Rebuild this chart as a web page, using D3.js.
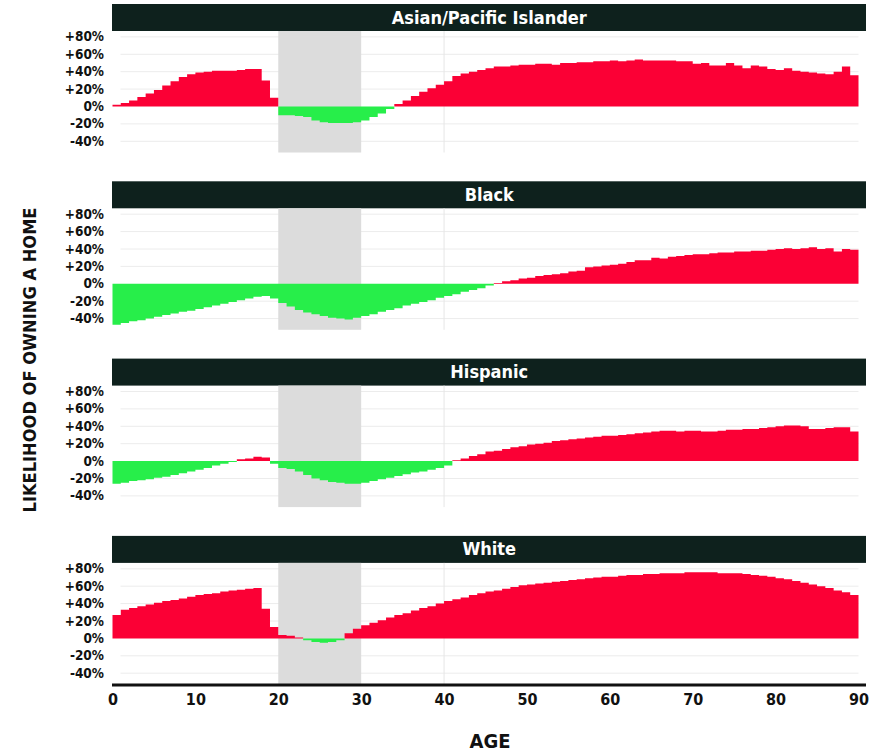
<!DOCTYPE html>
<html>
<head>
<meta charset="utf-8">
<script src="https://cdn.jsdelivr.net/npm/d3@7"></script>
<style>
  html, body { margin: 0; padding: 0; background: #ffffff; }
  svg { display: block; }
  text { font-family: "Liberation Sans Narrow", "DejaVu Sans Condensed", "Roboto", sans-serif; font-weight: bold; }
</style>
</head>
<body>
<svg id="chart" width="869" height="752"></svg>
<script>
// ---- DATA ----
const groups = ["Asian/Pacific Islander", "Black", "Hispanic", "White"];
const ages = d3.range(0, 91); // 0..90

const asianValues = [2,4,7,11,15,19,24,29,34,37,39,40,41,41,41,42,43,43,30,10,
  -10,-10,-11,-12,-16,-18,-19,-19,-19,-18,-16,-12,-8,-3,3,7,12,17,21,25,
  29,35,38,40,42,44,46,46,47,48,48,49,49,48,50,50,51,51,52,52,
  53,52,53,54,53,53,53,53,52,52,49,50,47,47,50,47,44,47,46,43,
  42,44,41,40,39,38,37,40,46,36,36];

const blackValues = [-47,-45,-43,-42,-40,-38,-36,-34,-32,-31,-29,-27,-25,-23,-21,-19,-17,-15,-14,-17,
  -22,-26,-30,-33,-35,-37,-39,-40,-41,-39,-37,-35,-32,-30,-28,-25,-23,-21,-19,-16,
  -14,-12,-9,-7,-5,-2,1,3,4,6,7,9,10,11,12,14,15,19,20,21,
  22,23,25,27,27,30,29,31,32,33,34,34,35,36,36,37,37,38,38,39,
  40,41,40,41,42,40,41,37,40,39,40];

const hispanicValues = [-26,-25,-23,-22,-21,-19,-18,-16,-14,-12,-10,-8,-5,-3,-1,2,3,5,4,-3,
  -8,-9,-12,-16,-20,-22,-24,-25,-26,-26,-25,-23,-21,-19,-17,-15,-13,-12,-10,-8,
  -5,1,3,6,8,11,12,14,16,17,19,20,21,23,24,25,26,27,28,29,
  29,30,31,32,33,34,35,35,34,35,35,34,34,35,36,36,37,37,38,39,
  40,41,41,40,37,37,38,39,39,34,34];

const whiteValues = [27,33,35,37,39,41,43,44,46,48,50,51,52,54,55,56,57,58,34,13,
  4,3,1,-2,-4,-5,-4,-2,6,11,15,18,21,24,27,29,32,35,37,40,
  43,45,47,50,52,54,55,57,59,61,62,63,64,65,66,67,68,69,70,71,
  71,72,73,73,74,74,75,75,75,76,76,76,76,75,75,75,74,73,72,71,
  69,68,66,64,62,60,58,55,53,50,48];

const seriesValues = [asianValues, blackValues, hispanicValues, whiteValues];
const yTicks = [80, 60, 40, 20, 0, -20, -40];
const yTickLabels = ["+80%", "+60%", "+40%", "+20%", "0%", "-20%", "-40%"];
const xTicks = [0, 10, 20, 30, 40, 50, 60, 70, 80, 90];
const shadeRange = [20, 30];
const yTitle = "LIKELIHOOD OF OWNING A HOME";
const xTitle = "AGE";

// ---- LAYOUT ----
const svg = d3.select("#chart");
const panelStep = 177.3;
const firstZero = 106.5;
const plotLeft = 112.5, plotRight = 858.5, headerRight = 866;
const x = d3.scaleLinear().domain([0, 90]).range([plotLeft, plotRight]);
const pxPerPct = 0.87;

const RED = "#fb0035";
const GREEN = "#27ee4a";
const HEADER = "#0e211d";

groups.forEach((name, i) => {
  const zero = firstZero + i * panelStep;
  const y = d3.scaleLinear().domain([-40, 80]).range([zero + 40 * pxPerPct, zero - 80 * pxPerPct]);
  const top = zero - 75.5;
  const bottom = zero + 46;
  const g = svg.append("g");

  // header
  g.append("rect").attr("x", plotLeft - 0.5).attr("y", top - 27).attr("width", headerRight - plotLeft + 0.5)
    .attr("height", 27).attr("fill", HEADER);
  g.append("text").attr("x", (plotLeft + headerRight) / 2).attr("y", top - 7.5)
    .attr("text-anchor", "middle").attr("fill", "#fff").attr("font-size", 18).text(name);

  // grid lines
  g.selectAll(".hg").data(yTicks.filter(d => d !== 0)).enter().append("line")
    .attr("x1", plotLeft + 8).attr("x2", plotRight).attr("y1", d => y(d)).attr("y2", d => y(d))
    .attr("stroke", "#ececec").attr("stroke-width", 1);
  g.selectAll(".vg").data([40]).enter().append("line")
    .attr("x1", d => x(d)).attr("x2", d => x(d)).attr("y1", top).attr("y2", bottom)
    .attr("stroke", "#e6e6e6").attr("stroke-width", 1);

  // shaded band
  g.append("rect").attr("x", x(shadeRange[0])).attr("y", top)
    .attr("width", x(shadeRange[1]) - x(shadeRange[0])).attr("height", bottom - top)
    .attr("fill", "#dcdcdc");

  const vals = seriesValues[i];
  const data = ages.map((a, k) => ({ age: a, v: vals[k] }));
  const posArea = d3.area().curve(d3.curveStepAfter)
    .x(d => x(d.age)).y0(y(0)).y1(d => y(Math.max(d.v, 0)));
  const negArea = d3.area().curve(d3.curveStepAfter)
    .x(d => x(d.age)).y0(y(0)).y1(d => y(Math.min(d.v, 0)));
  g.append("path").datum(data).attr("d", negArea).attr("fill", GREEN);
  g.append("path").datum(data).attr("d", posArea).attr("fill", RED);

  // y tick labels
  g.selectAll(".yt").data(yTicks).enter().append("text")
    .attr("x", 104).attr("y", d => y(d) + 4.5).attr("text-anchor", "end")
    .attr("font-size", 13.5).attr("fill", "#111").text((d, k) => yTickLabels[k]);
});

// x axis
const lastZero = firstZero + 3 * panelStep;
const axisY = lastZero + 46.5;
const xAxis = d3.axisBottom(x).tickValues(xTicks).tickSize(0).tickPadding(9);
const ax = svg.append("g").attr("transform", `translate(0,${axisY})`).call(xAxis);
ax.select(".domain").remove();
ax.append("line").attr("x1", plotLeft - 0.5).attr("x2", headerRight).attr("y1", 0).attr("y2", 0)
  .attr("stroke", "#111").attr("stroke-width", 3);
ax.selectAll(".tick text").attr("font-size", 16).attr("fill", "#111")
  .attr("font-family", "\"Liberation Sans Narrow\", \"DejaVu Sans Condensed\", sans-serif").attr("font-weight", "bold");

svg.append("text").attr("x", 490).attr("y", 748).attr("text-anchor", "middle")
  .attr("font-size", 20).attr("fill", "#111").text(xTitle);

svg.append("text").attr("transform", "translate(36,360) rotate(-90)").attr("text-anchor", "middle")
  .attr("font-size", 17).attr("fill", "#111").attr("textLength", 305).attr("lengthAdjust", "spacingAndGlyphs")
  .text(yTitle);
</script>
</body>
</html>
